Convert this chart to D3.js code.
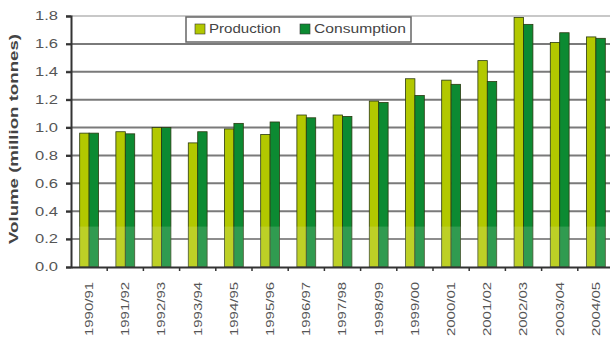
<!DOCTYPE html>
<html>
<head>
<meta charset="utf-8">
<script src="https://cdn.jsdelivr.net/npm/d3@7"></script>
<style>
  body { margin: 0; background: #fff; }
  svg { display: block; font-family: Arial, "Liberation Sans", sans-serif; }
</style>
</head>
<body>
<svg id="chart" width="610" height="341"></svg>
<script>
var years = ["1990/91", "1991/92", "1992/93", "1993/94", "1994/95", "1995/96", "1996/97",
  "1997/98", "1998/99", "1999/00", "2000/01", "2001/02", "2002/03", "2003/04", "2004/05"];
var production  = [0.96, 0.97, 1.00, 0.89, 0.99, 0.95, 1.09, 1.09, 1.19, 1.35, 1.34, 1.48, 1.79, 1.61, 1.65];
var consumption = [0.96, 0.955, 1.00, 0.97, 1.03, 1.04, 1.07, 1.08, 1.18, 1.23, 1.31, 1.33, 1.74, 1.68, 1.64];
var yTicks = [0, 0.2, 0.4, 0.6, 0.8, 1.0, 1.2, 1.4, 1.6, 1.8];
var seriesNames = ["Production", "Consumption"];
var colors = ["#b2c800", "#0c8a32"];

var margin = {top: 16, right: -4, bottom: 74, left: 71},
    width = 610 - margin.left - margin.right,
    height = 341 - margin.top - margin.bottom;

var x = d3.scaleBand()
    .domain(years)
    .range([0, width])
    .paddingInner(0.48)
    .paddingOuter(0.24);

var xs = d3.scaleBand()
    .domain(seriesNames)
    .range([0, x.bandwidth()]);

var y = d3.scaleLinear()
    .domain([0, 1.8])
    .range([height, 0]);

var svg = d3.select("#chart")
  .append("g")
    .attr("transform", "translate(" + margin.left + "," + margin.top + ")");

// gridlines
svg.append("g")
  .selectAll("line")
  .data(yTicks.slice(1))
  .enter()
  .append("line")
    .attr("x1", -5)
    .attr("x2", width)
    .attr("y1", function (d) { return y(d); })
    .attr("y2", function (d) { return y(d); })
    .attr("stroke", function (d) { return d === 1.8 ? "#c8c8c8" : "#7a7a7a"; })
    .attr("stroke-width", 2);

var rows = years.map(function (yr, i) {
  return {year: yr, values: [production[i], consumption[i]]};
});

var groups = svg.append("g")
  .selectAll("g")
  .data(rows)
  .enter()
  .append("g")
    .attr("transform", function (d) { return "translate(" + x(d.year) + ",0)"; });

groups.selectAll("rect")
  .data(function (d) { return d.values.map(function (v, j) { return {name: seriesNames[j], value: v, j: j}; }); })
  .enter()
  .append("rect")
    .attr("x", function (d) { return xs(d.name); })
    .attr("y", function (d) { return y(d.value); })
    .attr("width", xs.bandwidth())
    .attr("height", function (d) { return height - y(d.value); })
    .attr("fill", function (d) { return colors[d.j]; })
    .attr("stroke", "#2a3a10")
    .attr("stroke-width", 0.8);

// faded band near the bottom like the scan
svg.append("rect")
  .attr("x", 0)
  .attr("y", y(0.29))
  .attr("width", width)
  .attr("height", height - y(0.29))
  .attr("fill", "#fff")
  .attr("opacity", 0.15);

// y axis
var yAxis = svg.append("g")
  .call(d3.axisLeft(y).tickValues(yTicks).tickFormat(d3.format(".1f")).tickSize(5).tickPadding(8));
yAxis.select(".domain").attr("stroke", "#333").attr("stroke-width", 2);
yAxis.selectAll(".tick line").attr("stroke", "#333").attr("stroke-width", 2);
yAxis.selectAll("text")
  .attr("font-size", 12)
  .attr("fill", "#555")
  .attr("textLength", 23)
  .attr("lengthAdjust", "spacingAndGlyphs");

// x axis
var xAxis = svg.append("g")
  .attr("transform", "translate(0," + height + ")")
  .call(d3.axisBottom(x).tickSize(0).tickPadding(0));
xAxis.select(".domain").attr("stroke", "#333").attr("stroke-width", 2);
xAxis.selectAll("text")
  .attr("font-size", 11)
  .attr("fill", "#555")
  .attr("text-anchor", "end")
  .attr("dy", "0.35em")
  .attr("textLength", 54)
  .attr("lengthAdjust", "spacingAndGlyphs")
  .attr("transform", "translate(0,15) rotate(-90)");

// boundary ticks
svg.append("g")
  .selectAll("line")
  .data(years.slice(1))
  .enter()
  .append("line")
    .attr("x1", function (d) { return x(d) - x.step() * x.paddingInner() / 2; })
    .attr("x2", function (d) { return x(d) - x.step() * x.paddingInner() / 2; })
    .attr("y1", height)
    .attr("y2", height + 4)
    .attr("stroke", "#333")
    .attr("stroke-width", 1.5);

// y title
svg.append("text")
  .attr("transform", "translate(" + (14 - margin.left) + "," + (139 - margin.top) + ") rotate(-90)")
  .attr("text-anchor", "middle")
  .attr("dy", "0.35em")
  .attr("font-size", 12)
  .attr("font-weight", "bold")
  .attr("fill", "#444")
  .attr("textLength", 210)
  .attr("lengthAdjust", "spacingAndGlyphs")
  .text("Volume (million tonnes)");

// legend
var legend = svg.append("g")
  .attr("transform", "translate(" + (186 - margin.left) + "," + (17 - margin.top) + ")");
legend.append("rect")
  .attr("width", 225)
  .attr("height", 25)
  .attr("fill", "#fff")
  .attr("stroke", "#666")
  .attr("stroke-width", 1.5);
var legendX = [9, 114];
var legendLen = [72, 92];
var items = legend.selectAll(".item")
  .data(seriesNames)
  .enter()
  .append("g")
    .attr("transform", function (d, i) { return "translate(" + legendX[i] + ",7)"; });
items.append("rect")
  .attr("width", 10)
  .attr("height", 10)
  .attr("fill", function (d, i) { return colors[i]; })
  .attr("stroke", "#333")
  .attr("stroke-width", 0.6);
items.append("text")
  .attr("x", 14)
  .attr("y", 5)
  .attr("dy", "0.35em")
  .attr("font-size", 12)
  .attr("fill", "#444")
  .attr("textLength", function (d, i) { return legendLen[i]; })
  .attr("lengthAdjust", "spacingAndGlyphs")
  .text(function (d) { return d; });
</script>
</body>
</html>
